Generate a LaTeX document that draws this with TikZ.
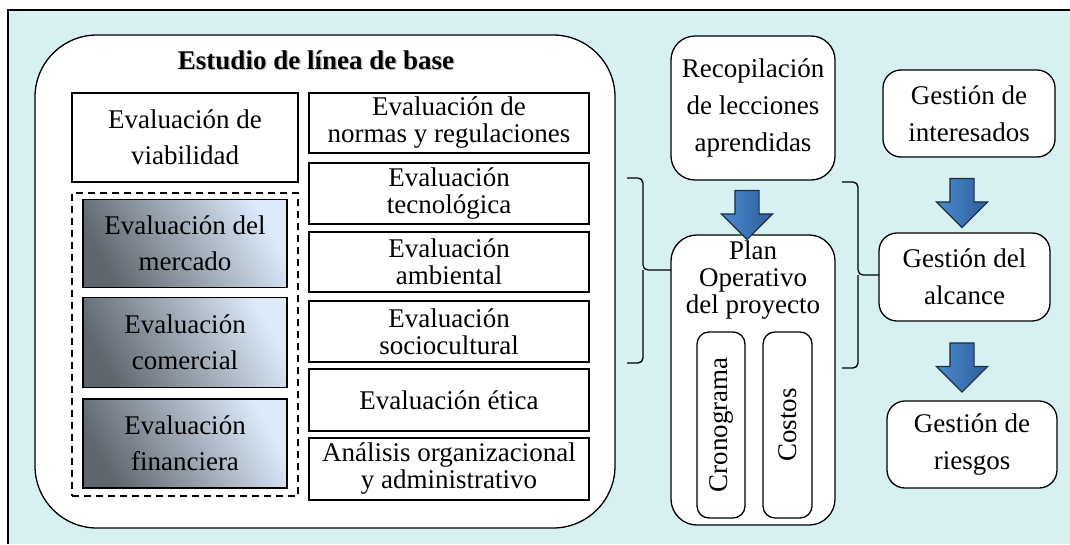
\documentclass[tikz,border=0pt]{standalone}
\usepackage{fontspec}
\setmainfont{Liberation Serif}
\usetikzlibrary{shapes.arrows,calc}
\definecolor{bgcyan}{RGB}{215,240,241}
\definecolor{gdark}{RGB}{95,102,110}
\definecolor{glight}{RGB}{220,234,250}
\definecolor{adark}{RGB}{45,92,150}
\definecolor{alight}{RGB}{75,140,210}
\definecolor{aline}{RGB}{25,45,70}
\begin{document}
\begin{tikzpicture}[x=1pt,y=-1pt,
  every node/.style={inner sep=0pt,outer sep=0pt,align=center},
  base/.style={font=\fontsize{27}{36}\selectfont},
  tight/.style={font=\fontsize{27}{27}\selectfont},
  sqbox/.style={draw,line width=1.3pt,fill=white},
  gradbox/.style={draw,line width=1.3pt,shading=axis,left color=gdark,right color=glight,shading angle=120},
  rbox/.style={draw,line width=1.3pt,fill=white,rounded corners=18pt},
  blockarrow/.style={single arrow,draw=aline,line width=1.1pt,shading=axis,left color=alight,right color=adark,
     shape border rotate=270,minimum height=49pt,minimum width=50pt,single arrow head extend=13.5pt,inner sep=11.5pt,
     single arrow tip angle=90},
  bracel/.style={line width=1.3pt,rounded corners=5pt}]
\useasboundingbox (0,0) rectangle (1070,544);
% background frame
\fill[bgcyan] (8,10) rectangle (1070,544);
\draw[line width=1.6pt] (8,544) -- (8,10) -- (1070,10);
% big rounded box
\node[sqbox,rounded corners=62pt,minimum width=580pt,minimum height=493pt] (big) at (325,281.5) {};
\node[font=\bfseries\fontsize{27}{32}\selectfont,text=gray!60,opacity=0.6] at (317.5,61.5) {Estudio de línea de base};
\node[font=\bfseries\fontsize{27}{32}\selectfont] (title) at (316,60) {Estudio de línea de base};
% left column
\node[sqbox,base,minimum width=226pt,minimum height=89pt] (viab) at (185,137.5) {Evaluación de\\viabilidad};
\node[draw,dashed,line width=1.3pt,dash pattern=on 7pt off 5pt,minimum width=226pt,minimum height=303pt] (dash) at (185,344.5) {};
\node[gradbox,base,minimum width=204pt,minimum height=88pt] (merc) at (185,243.5) {Evaluación del\\mercado};
\node[gradbox,base,minimum width=204pt,minimum height=90pt] (come) at (185,342.5) {Evaluación\\comercial};
\node[gradbox,base,minimum width=204pt,minimum height=89pt] (fina) at (185,443.5) {Evaluación\\financiera};
% right column
\node[sqbox,tight,minimum width=280pt,minimum height=60pt] (norm) at (449,123) {Evaluación de\\normas y regulaciones};
\node[sqbox,tight,minimum width=280pt,minimum height=61pt] (tecn) at (449,193.5) {Evaluación\\tecnológica};
\node[sqbox,tight,minimum width=280pt,minimum height=60pt] (ambi) at (449,262) {Evaluación\\ambiental};
\node[sqbox,tight,minimum width=280pt,minimum height=61pt] (soci) at (449,331.5) {Evaluación\\sociocultural};
\node[sqbox,base,minimum width=280pt,minimum height=62pt] (etic) at (449,400) {Evaluación ética};
\node[sqbox,tight,minimum width=280pt,minimum height=62pt] (anal) at (449,469) {Análisis organizacional\\y administrativo};
% middle column
\node[rbox,font=\fontsize{27}{37}\selectfont,minimum width=164pt,minimum height=144pt,rounded corners=24pt] (recop) at (753,108) {Recopilación\\de lecciones\\aprendidas};
\node[rbox,minimum width=164pt,minimum height=290pt,rounded corners=26pt] (plan) at (753,380) {};
\node[font=\fontsize{27}{27}\selectfont,anchor=north] (plantxt) at (753,241) {Plan\\Operativo\\del proyecto};
\node[rbox,rounded corners=12pt,minimum width=48pt,minimum height=186pt] (crono) at (721,425) {};
\node[base,rotate=90] at (crono.center) {Cronograma};
\node[rbox,rounded corners=12pt,minimum width=49pt,minimum height=186pt] (cost) at (787.5,425) {};
\node[base,rotate=90] at (cost.center) {Costos};
% right column
\node[rbox,font=\fontsize{27}{37}\selectfont,minimum width=172pt,minimum height=87pt] (inter) at (969,113.5) {Gestión de\\interesados};
\node[rbox,font=\fontsize{27}{37}\selectfont,minimum width=171pt,minimum height=88pt] (alca) at (964.5,277) {Gestión del\\alcance};
\node[rbox,font=\fontsize{27}{37}\selectfont,minimum width=170pt,minimum height=87pt] (ries) at (972,444.5) {Gestión de\\riesgos};
% block arrows
\node[blockarrow] (a1) at (747,209) {};
\node[blockarrow] (a2) at (962,197) {};
\node[blockarrow] (a3) at (962,361.5) {};
% braces
\coordinate (b1t) at (627,178);
\coordinate (b1b) at (627,363);
\coordinate (b1m) at (643,270);
\draw[bracel] (b1t) -| (b1m) -- (b1m -| plan.west);
\draw[bracel] (b1b) -| (b1m);
\coordinate (b2t) at (842,182);
\coordinate (b2b) at (842,368);
\coordinate (b2m) at (858,275);
\draw[bracel] (b2t) -| (b2m) -- (b2m -| alca.west);
\draw[bracel] (b2b) -| (b2m);
\end{tikzpicture}
\end{document}
